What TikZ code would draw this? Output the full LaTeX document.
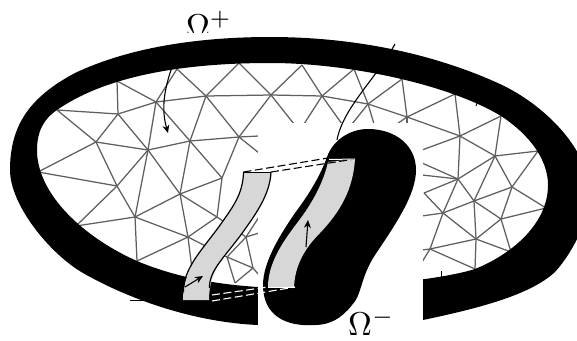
\documentclass[tikz,border=0pt]{standalone}
\usetikzlibrary{arrows.meta}
\definecolor{meshgray}{RGB}{95,95,95}
\definecolor{stripgray}{RGB}{215,215,215}
\tikzset{
  meshline/.style={draw=meshgray,line width=1.25pt},
  stripfill/.style={fill=stripgray,draw=none},
  stripedge/.style={draw=black,line width=1.2pt},
  dashblack/.style={draw=black,line width=1.1pt,dash pattern=on 8pt off 3.5pt},
  dashwhite/.style={draw=white,line width=1.1pt,dash pattern=on 8pt off 3.5pt},
  curvearrow/.style={draw=black,line width=1.1pt,-{Stealth[length=8pt,width=7pt]}},
  curveplain/.style={draw=black,line width=1.1pt},
  tickline/.style={draw=black,line width=0.9pt},
  omegalabel/.style={inner sep=0pt,scale=3.3},
}
\begin{document}
\begin{tikzpicture}[x=1pt,y=-1pt]
\useasboundingbox (0,0) rectangle (577,340);
\clip (0,0) rectangle (577,340);
\fill[white] (0,0) rectangle (577,340);
% mesh vertices
\foreach \n/\x/\y in {v1/57/110,v2/117/81,v3/118/114,v4/156/102,v5/177/69,v6/206/96,v7/239/63,v8/271/95,v9/96/142,v10/148/150,v11/190/141,v12/239/137,v13/38/172,v14/117/186,v15/135/217,v16/76/226,v17/137/261,v18/180/194,v19/188/237,v20/222/178,v21/217/217,v22/246/237,v23/253/268,v24/235/283,v25/227/257,v26/302/65,v27/322/96,v28/354/69,v29/368/104,v30/402/79,v31/407/117,v32/455/94,v33/460/136,v34/501/116,v35/495/156,v36/538/151,v37/458/179,v38/512/187,v39/474/201,v40/443/213,v41/501/219,v42/546/208,v43/476/239,v44/511/252,v45/430/249,v46/475/269,v47/424/193,v48/193/277,
s1/259/136,s2/259/153,s3/294/124,s4/304/124,s5/342/124,s6/352/124,s7/374/124,s8/397/124,s9/407/124,s10/422/150,s11/422/163,s12/422/175,s14/422/216,s15/422/250,s16/422/262,s17/259/217,s18/259/233,s19/259/275}
  {\coordinate (\n) at (\x,\y);}
\foreach \a/\b in {v1/v3,v1/v9,v2/v3,v2/v4,v3/v4,v3/v9,v3/v10,v4/v5,v4/v6,v4/v10,v4/v11,v5/v6,v6/v7,v6/v8,v6/v11,v6/v12,v7/v8,v8/v12,v8/v26,v8/v27,v8/s3,v9/v10,v9/v13,v9/v14,v10/v11,v10/v14,v10/v15,v10/v18,v11/v12,v11/v18,v11/v20,v12/v20,v12/s1,v12/s2,v13/v14,v14/v15,v14/v16,v15/v16,v15/v17,v15/v18,v15/v19,v17/v19,v18/v19,v18/v20,v18/v21,v19/v21,v19/v25,v19/v48,v20/v21,v21/v22,v22/v25,v22/v23,v22/s17,v22/s18,v23/v24,v23/v25,v23/s19,v24/v25,
v26/v27,v27/v28,v27/v29,v27/s4,v27/s5,v28/v29,v29/v30,v29/v31,v29/s6,v29/s7,v30/v31,v31/v32,v31/v33,v31/s8,v31/s9,v32/v33,v33/v34,v33/v35,v33/v37,v33/s10,v34/v35,v35/v36,v35/v37,v35/v38,v35/v39,v36/v38,v37/v39,v37/v40,v37/v47,v37/s11,v37/s12,v38/v39,v38/v41,v38/v42,v39/v40,v39/v41,v39/v43,v40/v43,v40/v45,v40/v47,v40/s14,v41/v42,v41/v43,v41/v44,v43/v44,v43/v45,v43/v46,v45/v46,v45/s15,v45/s16}
  {\draw[meshline] (\a) -- (\b);}
% thick black boundary band
\fill[black,even odd rule]
  (10,170) .. controls (10,125) and (30,97) .. (75,73)
  .. controls (130,47) and (200,37) .. (270,37)
  .. controls (350,37) and (430,52) .. (500,84)
  .. controls (545,105) and (590,150) .. (590,195)
  .. controls (590,215) and (575,250) .. (555,272)
  .. controls (530,295) and (480,308) .. (423,320)
  .. controls (380,328) and (310,330) .. (258,325)
  .. controls (190,322) and (125,297) .. (83,273)
  .. controls (50,254) and (10,205) .. (10,170) -- cycle
  (37,150) .. controls (37,130) and (45,118) .. (57,110)
  .. controls (100,80) and (170,63) .. (270,63)
  .. controls (350,63) and (450,85) .. (501,116)
  .. controls (530,135) and (548,160) .. (548,185)
  .. controls (548,225) and (510,255) .. (475,269)
  .. controls (440,280) and (350,290) .. (258,287)
  .. controls (210,284) and (170,275) .. (137,261)
  .. controls (85,238) and (37,195) .. (37,150) -- cycle;
% white cut
\fill[white] (258,123) rectangle (423,340);
% blob
\fill[black] (368,129) .. controls (395,129) and (416,145) .. (416,170)
  .. controls (416,195) and (395,225) .. (375,255)
  .. controls (360,278) and (362,295) .. (352,305)
  .. controls (342,318) and (330,325) .. (315,325)
  .. controls (285,327) and (263,315) .. (263,285)
  .. controls (263,262) and (280,235) .. (295,213)
  .. controls (307,197) and (320,177) .. (327,157)
  .. controls (333,140) and (350,129) .. (368,129) -- cycle;
% blob strip
\path[stripfill] (328,162) .. controls (324,180) and (315,198) .. (303,215)
  .. controls (290,233) and (268,258) .. (268,287) -- (294,287)
  .. controls (295,265) and (305,248) .. (320,233)
  .. controls (340,212) and (353,190) .. (355,159) -- cycle;
% left strip
\coordinate (lt1) at (243.5,172);
\coordinate (lt2) at (271,172);
\coordinate (lb1) at (183,300);
\coordinate (lb2) at (209,300);
\path[stripfill] (lt1) .. controls (243,195) and (232,208) .. (218,228)
  .. controls (200,252) and (183,270) .. (lb1) -- (lb2)
  .. controls (209,270) and (225,257) .. (243,232)
  .. controls (255,215) and (270,195) .. (lt2) -- cycle;
\draw[stripedge] (lt1) .. controls (243,195) and (232,208) .. (218,228)
  .. controls (200,252) and (183,270) .. (183.5,292);
\draw[stripedge] (lt2) .. controls (270,195) and (255,215) .. (243,232)
  .. controls (225,257) and (209,270) .. (209.5,288);
\draw[black,line width=1pt] (lt1) -- (lt2);
% dashed connectors
\coordinate (bt1) at (328,158);
\coordinate (bt2) at (355,159);
\coordinate (bb1) at (268,287);
\coordinate (bb2) at (295,287);
\coordinate (bl1) at (212,295);
\coordinate (bl2) at (212,301);
\draw[dashblack] (lt1) -- (bt1);
\draw[dashblack] (lt2) -- (bt2);
\draw[white,line width=1pt] (bt1) ++(1,1.5) -- (bt2);
\draw[dashwhite] (bl1) -- (bb1);
\draw[dashwhite] (bl2) -- (bb2);
\draw[white,line width=0.9pt] (bb1) -- (bb2);
% curves
\coordinate (c1s) at (182,43);
\coordinate (c1e) at (168,133);
\draw[curvearrow] (c1s) .. controls (165,80) and (160,105) .. (c1e);
\coordinate (c2s) at (395,44);
\coordinate (c2e) at (337,140);
\draw[curveplain] (c2s) .. controls (375,80) and (343,108) .. (c2e);
\coordinate (a1s) at (185,287);
\coordinate (a1e) at (203,276);
\draw[curvearrow] (a1s) -- (a1e);
\coordinate (a2s) at (306,247);
\coordinate (a2e) at (308,220);
\draw[curvearrow] (a2s) -- (a2e);
% small ticks
\coordinate (t1a) at (130,300.5);
\coordinate (t1b) at (146,300.5);
\draw[tickline] (t1a) -- (t1b);
\coordinate (t2a) at (441.5,271);
\coordinate (t2b) at (441.5,282);
\draw[tickline] (t2a) -- (t2b);
\coordinate (t3a) at (476,106);
\coordinate (t3b) at (478,100);
\draw[tickline] (t3a) -- (t3b);
% labels
\begin{scope}
\clip (150,0) rectangle (300,32);
\node[omegalabel,anchor=base west] (lplus) at (185.5,37) {$\Omega^{+}$};
\end{scope}
\node[omegalabel,anchor=base west] (lminus) at (347.5,335) {$\Omega^{-}$};
\end{tikzpicture}
\end{document}
